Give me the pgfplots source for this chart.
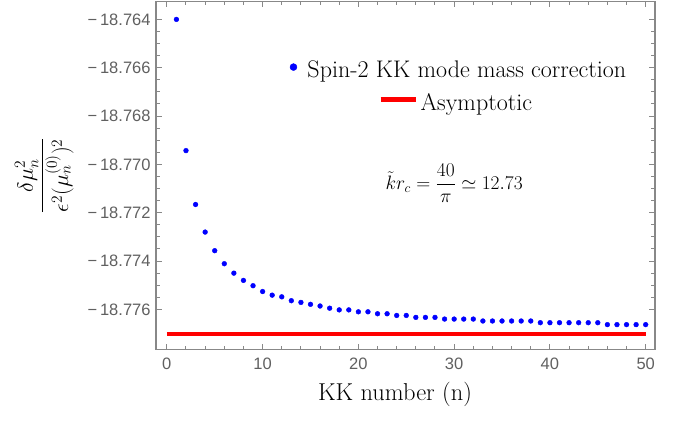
\RequirePackage{fix-cm}
\documentclass[border=0pt]{standalone}
\usepackage{amsmath}
\usepackage{fontspec}
\usepackage{pgfplots}
\pgfplotsset{compat=1.18}
\newfontfamily\ticksf{Liberation Sans}
\definecolor{framegray}{RGB}{136,136,136}
\definecolor{labelgray}{RGB}{96,96,96}

\pgfplotstableread{
n  val
1  -18.76400
2  -18.76943
3  -18.77166
4  -18.77280
5  -18.77357
6  -18.77411
7  -18.77450
8  -18.77480
9  -18.77502
10 -18.77526
11 -18.77541
12 -18.77548
13 -18.77564
14 -18.77571
15 -18.77579
16 -18.77586
17 -18.77595
18 -18.77602
19 -18.77602
20 -18.77610
21 -18.77610
22 -18.77618
23 -18.77618
24 -18.77625
25 -18.77625
26 -18.77633
27 -18.77633
28 -18.77633
29 -18.77640
30 -18.77640
31 -18.77640
32 -18.77640
33 -18.77648
34 -18.77648
35 -18.77648
36 -18.77648
37 -18.77648
38 -18.77648
39 -18.77655
40 -18.77655
41 -18.77655
42 -18.77655
43 -18.77655
44 -18.77655
45 -18.77655
46 -18.77663
47 -18.77663
48 -18.77663
49 -18.77663
50 -18.77663
}\kkdata

\begin{document}
\begin{tikzpicture}
\begin{axis}[
  scale only axis,
  width=498.5pt, height=348pt,
  xmin=-1.12, xmax=50.97,
  ymin=-18.77767, ymax=-18.76326,
  xtick={0,10,20,30,40,50},
  minor x tick num=4,
  ytick={-18.776,-18.774,-18.772,-18.770,-18.768,-18.766,-18.764},
  yticklabels={−\,18.776,−\,18.774,−\,18.772,−\,18.770,−\,18.768,−\,18.766,−\,18.764},
  minor y tick num=3,
  /pgf/number format/assume math mode=true,
  tick label style={font=\ticksf\fontsize{16.5}{18}\selectfont, text=labelgray},
  xticklabel style={yshift=-4.5pt},
  yticklabel style={xshift=-2pt},
  axis line style={framegray, line width=1.3pt},
  tick style={framegray, line width=1pt},
  major tick length=6pt, minor tick length=3.5pt,
  xlabel={KK number (n)},
  xlabel style={font=\fontsize{24.4}{28}\selectfont, at={(axis description cs:0.479,-0.129)}, anchor=center},
  ylabel={$\dfrac{\delta\mu_n^2}{\epsilon^2(\mu_n^{(0)})^2}$},
  ylabel style={font=\fontsize{22}{26}\selectfont, at={(axis description cs:-0.224,0.5)}, anchor=center},
  legend cell align=left,
  legend style={draw=none, fill=none, at={(axis cs:30.44,-18.76677)}, anchor=center,
    font=\fontsize{24}{28}\selectfont, row sep=10pt},
]
\addplot [only marks, mark=*, mark size=2.4pt, color=blue,
  legend image code/.code={\path[draw=none, fill=none] (0,0) rectangle (17pt,0); \fill[blue] (5pt,3pt) circle (3.5pt);}]
  table [x=n, y=val] {\kkdata};
\addlegendentry{Spin-2 KK mode mass correction}
\addplot [red, line width=4pt,
  legend image code/.code={\path[draw=none, fill=none] (0,0) rectangle (17pt,0); \draw[overlay, red, line width=4.5pt] (92pt,3pt) -- (127pt,3pt);}]
  coordinates {(0,-18.777) (50,-18.777)};
\addlegendentry{\hspace*{113pt}Asymptotic}
\node[font=\fontsize{19.4}{23}\selectfont] at (axis cs:30,-18.77079) {$\tilde{k}r_c=\dfrac{40}{\pi}\simeq 12.73$};
\end{axis}
\path ([shift={(-156pt,-74.5pt)}]current axis.south west) rectangle ([shift={(24pt,1.5pt)}]current axis.north east);
\end{tikzpicture}
\end{document}
